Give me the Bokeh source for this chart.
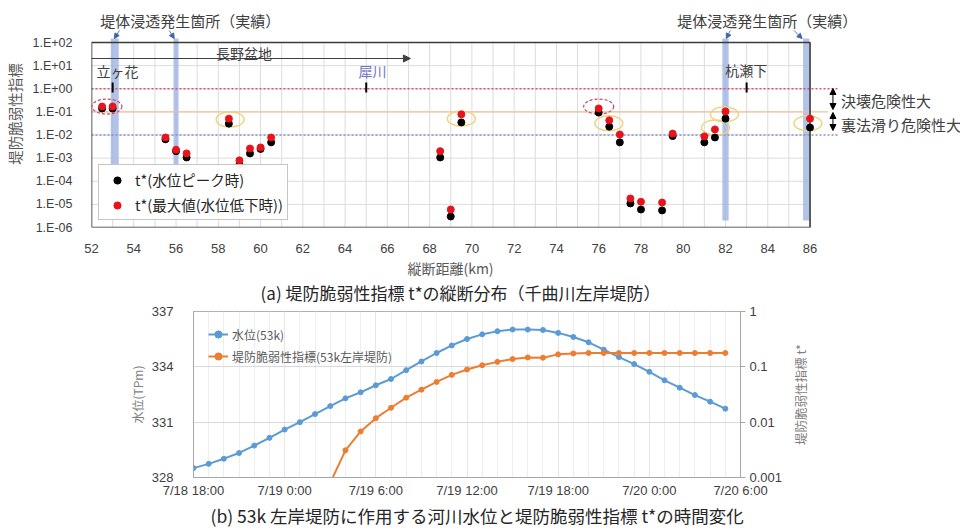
import math
from bokeh.plotting import figure
from bokeh.layouts import column, row
from bokeh.models import (Range1d, FixedTicker, CustomJSTickFormatter, Label, Arrow,
                          NormalHead, Legend, LegendItem, LogAxis, LogScale, Title)
from bokeh.core.properties import value
from bokeh.embed import file_html
from bokeh.resources import INLINE

JP = "Noto Sans CJK JP"
LAT = "Liberation Sans"
nan = float("nan")

# ---------------- (a) data ----------------
km = [52.5, 53.0, 55.5, 56.0, 56.5, 58.5, 59.0, 59.5, 60.0, 60.5, 68.5, 69.0,
      69.5, 76.0, 76.5, 77.0, 77.5, 78.0, 79.0, 79.5, 81.0, 81.5, 82.0, 86.0]
t_peak = [0.14, 0.14, 0.0065, 0.002, 0.00107, 0.031, 0.00053, 0.0016, 0.0025, 0.0048, 0.00107, 3.0e-6,
          0.035, 0.093, 0.023, 0.0048, 1.1e-5, 6.0e-6, 5.5e-6, 0.009, 0.0048, 0.0078, 0.051, 0.021]
t_max = [0.17, 0.17, 0.0078, 0.0023, 0.0016, 0.051, 0.0008, 0.0026, 0.0029, 0.0078, 0.0020, 6.0e-6,
         0.078, 0.14, 0.043, 0.0105, 1.8e-5, 1.3e-5, 1.2e-5, 0.0115, 0.0087, 0.0174, 0.105, 0.051]
x_ticks_a = [52, 54, 56, 58, 60, 62, 64, 66, 68, 70, 72, 74, 76, 78, 80, 82, 84, 86]
x_grid_a = list(range(52, 87))
y_ticks_a = [1e-6, 1e-5, 1e-4, 1e-3, 1e-2, 1e-1, 1e0, 1e1, 1e2]
thresholds = [1.0, 0.1, 0.01]
seep_km = [53.1, 56.0, 82.0, 85.82]
seep_bottom = [2.2e-4, 2.2e-4, 2.0e-6, 2.0e-6]
places = ["立ヶ花", "犀川", "杭瀬下"]
place_km = [53.0, 65.0, 83.0]
red_ring_km = [52.73, 76.0]
red_ring_t = [0.17, 0.17]
yellow_ring_km = [58.56, 69.5, 76.48, 81.53, 81.95, 85.9]
yellow_ring_t = [0.047, 0.051, 0.032, 0.021, 0.078, 0.032]

# ---------------- (b) data ----------------
hours = list(range(36))
level = [328.51, 328.74, 329.02, 329.33, 329.73, 330.15, 330.6, 331.0, 331.44, 331.87,
         332.29, 332.62, 333.0, 333.34, 333.82, 334.29, 334.75, 335.16, 335.51, 335.76,
         335.93, 336.02, 336.02, 336.0, 335.84, 335.62, 335.33, 334.93, 334.53, 334.15,
         333.73, 333.27, 332.87, 332.47, 332.11, 331.73]
tstar = [nan, nan, nan, nan, nan, nan, nan, nan, nan, 0.0008,
         0.0031, 0.0068, 0.0118, 0.0182, 0.0277, 0.0387, 0.0534, 0.0716, 0.0895, 0.107,
         0.123, 0.138, 0.148, 0.146, 0.168, 0.175, 0.178, 0.178, 0.178, 0.178,
         0.178, 0.178, 0.178, 0.178, 0.178, 0.178]
time_ticks = [0, 6, 12, 18, 24, 30, 36]
time_labels = ["7/18 18:00", "7/19 0:00", "7/19 6:00", "7/19 12:00", "7/19 18:00", "7/20 0:00", "7/20 6:00"]
level_ticks = [328, 331, 334, 337]
tstar_ticks = [0.001, 0.01, 0.1, 1]

# ---------------- layout helpers (annotation placement) ----------------
def a_km(px):
    return 52 + (px - 88) / 21.206

def a_t(py):
    return 10 ** (2 - (py - 42) / 23.125)

def bare(w, h):
    f = figure(width=w, height=h, output_backend="svg", toolbar_location=None,
               x_range=Range1d(0, w), y_range=Range1d(0, h),
               min_border_left=0, min_border_right=0, min_border_top=0, min_border_bottom=0)
    f.frame_align = False
    f.axis.visible = False
    f.grid.grid_line_color = None
    f.outline_line_color = None
    return f

# ================= panel (a) =================
H1 = 258
p1 = figure(width=960, height=H1, output_backend="svg", toolbar_location=None,
            x_range=Range1d(52, a_km(960)), y_range=Range1d(1e-6, a_t(0)),
            y_axis_type="log", min_border_left=88, min_border_right=0,
            min_border_top=0, min_border_bottom=31)
p1.frame_align = False
p1.outline_line_color = None
p1.grid.grid_line_color = None
p1.background_fill_color = "white"

xa0, xa1 = x_ticks_a[0], x_ticks_a[-1]
ya0, ya1 = y_ticks_a[0], y_ticks_a[-1]

# grid
p1.segment(x0=x_grid_a, y0=[ya0] * len(x_grid_a), x1=x_grid_a, y1=[ya1] * len(x_grid_a),
           line_color="#dcdcdc", line_width=1)
p1.segment(x0=[xa0] * len(y_ticks_a), y0=y_ticks_a, x1=[xa1] * len(y_ticks_a), y1=y_ticks_a,
           line_color="#dcdcdc", line_width=1)

# seepage bands
band_w = [0.38, 0.24, 0.30, 0.30]
band_top = a_t(38)
p1.quad(left=[k - w / 2 for k, w in zip(seep_km, band_w)],
        right=[k + w / 2 for k, w in zip(seep_km, band_w)],
        bottom=seep_bottom, top=[band_top] * len(seep_km),
        fill_color="#9db4e0", fill_alpha=0.8, line_color=None)

# threshold lines
th_end = [a_km(837), a_km(827), a_km(837)]
th_col = ["#d9556a", "#f3bf9c", "#8a8fc8"]
th_dash = ["2 2", "solid", "2 2"]
for t, e, c, d in zip(thresholds, th_end, th_col, th_dash):
    p1.segment(x0=[xa0], y0=[t], x1=[e], y1=[t], line_color=c, line_width=1.3, line_dash=d)

# box
p1.line(x=[xa0, xa1, xa1, xa0, xa0], y=[ya0, ya0, ya1, ya1, ya0], line_color="#3a3a3a", line_width=1.6)

# place ticks
p1.segment(x0=place_km, y0=[a_t(82)] * 3, x1=place_km, y1=[a_t(92)] * 3,
           line_color="black", line_width=2)

# rings
p1.ellipse(x=red_ring_km, y=red_ring_t, width=30, height=15, width_units="screen",
           height_units="screen", fill_color=None, line_color="#d0455a", line_width=1.2,
           line_dash="3 2")
p1.ellipse(x=yellow_ring_km, y=yellow_ring_t, width=28, height=15, width_units="screen",
           height_units="screen", fill_color=None, line_color="#f0d27a", line_width=1.4)

# points
r_blk = p1.scatter(km, t_peak, size=7, fill_color="black", line_color="black")
r_red = p1.scatter(km, t_max, size=7, fill_color="#e8141b", line_color="#e8141b")

# axes
p1.xaxis.ticker = FixedTicker(ticks=x_ticks_a)
p1.yaxis.ticker = FixedTicker(ticks=y_ticks_a)
p1.yaxis.bounds = (ya0, ya1)
p1.yaxis.formatter = CustomJSTickFormatter(code="""
const e = Math.round(Math.log10(tick));
const a = Math.abs(e);
return "1.E" + (e < 0 ? "-" : "+") + (a < 10 ? "0" : "") + a;
""")
for ax in (p1.xaxis[0], p1.yaxis[0]):
    ax.axis_line_color = None
    ax.major_tick_line_color = None
    ax.minor_tick_line_color = None
    ax.major_label_text_font = LAT
    ax.major_label_text_color = "#404040"
    ax.axis_label_text_font = JP
    ax.axis_label_text_font_style = "normal"
    ax.axis_label_text_color = "#595959"
p1.xaxis.major_tick_out = 0
p1.xaxis.minor_tick_out = 0
p1.xaxis.major_label_text_font_size = "13px"
p1.yaxis.major_label_text_font_size = "12.5px"
p1.xaxis.major_label_standoff = 16
p1.yaxis.major_label_standoff = 13
p1.yaxis.axis_label = "堤防脆弱性指標"
p1.yaxis.axis_label_text_font_size = "14.5px"
p1.yaxis.axis_label_standoff = 5

leg1 = Legend(items=[LegendItem(label="t*(水位ピーク時)", renderers=[r_blk]),
                     LegendItem(label="t*(最大値(水位低下時))", renderers=[r_red])],
              location="bottom_left", margin=7, padding=4, spacing=4,
              label_height=18, glyph_height=18, glyph_width=28, label_standoff=4,
              label_text_font=JP, label_text_font_size="14.5px", label_text_color="#262626",
              border_line_color="#8c8c8c", border_line_width=1, background_fill_color="white")
p1.add_layout(leg1)

# annotations (a)
def lab(p, x, y, text, size, color="#404040", align="left", font=JP):
    p.add_layout(Label(x=x, y=y, text=text, text_font=font, text_font_size=size,
                       text_color=color, text_align=align, text_baseline="middle"))

lab(p1, a_km(187), a_t(20), "堤体浸透発生箇所（実績）", "15px", align="center")
lab(p1, a_km(766), a_t(20), "堤体浸透発生箇所（実績）", "15px", align="center")
lab(p1, a_km(241), a_t(52), "長野盆地", "14px", align="center")
lab(p1, a_km(93), a_t(70), places[0], "14px")
lab(p1, a_km(370), a_t(70), places[1], "14px", color="#7474c4", align="center")
lab(p1, a_km(745), a_t(69), places[2], "14px", align="center")
lab(p1, a_km(840), a_t(100), "決壊危険性大", "15px")
lab(p1, a_km(840), a_t(124), "裏法滑り危険性大", "15px")

p1.add_layout(Arrow(x_start=a_km(86), y_start=a_t(58), x_end=a_km(408), y_end=a_t(58),
                    line_color="#404040", line_width=1.2,
                    end=NormalHead(size=7, fill_color="#404040", line_color="#404040")))
for ys, ye in ((88, 109), (112, 130)):
    p1.add_layout(Arrow(x_start=a_km(832), y_start=a_t(ys), x_end=a_km(832), y_end=a_t(ye),
                        line_color="black", line_width=1,
                        start=NormalHead(size=6, fill_color="black", line_color="black"),
                        end=NormalHead(size=6, fill_color="black", line_color="black")))
for xs, xe in ((116, 111), (166, 171), (729, 725), (793, 801)):
    p1.add_layout(Arrow(x_start=a_km(xs), y_start=a_t(30), x_end=a_km(xe), y_end=a_t(38),
                        line_color="#5a78b8", line_width=1,
                        end=NormalHead(size=5, fill_color="#3f64b0", line_color="#3f64b0")))

# ---- strip under panel (a): axis title and caption
H_CAP = 305 - H1
cap = bare(960, H_CAP)
cap.text(x=[450], y=[H_CAP - (267 - H1)], text=["縦断距離(km)"], text_font=value(JP),
         text_font_size=value("14px"), text_color="#595959", text_align="center", text_baseline="middle")
cap.text(x=[462], y=[H_CAP - (292 - H1)], text=["(a)  堤防脆弱性指標 t*の縦断分布（千曲川左岸堤防）"],
         text_font=value(JP), text_font_size=value("17px"), text_color="#262626",
         text_align="center", text_baseline="middle")

# ================= panel (b) =================
W2, H2 = 790, 227
p2 = figure(width=W2, height=H2, output_backend="svg", toolbar_location=None,
            x_range=Range1d(0, 36), y_range=Range1d(level_ticks[0], level_ticks[-1]),
            min_border_left=193, min_border_right=W2 - 740, min_border_top=6, min_border_bottom=55)
p2.frame_align = False
p2.extra_y_ranges = {"t": Range1d(tstar_ticks[0], tstar_ticks[-1])}
p2.extra_y_scales = {"t": LogScale()}
p2.outline_line_color = "#b0b0b0"

xax2 = p2.xaxis[0]
yax2 = p2.yaxis[0]
xax2.ticker = FixedTicker(ticks=time_ticks, minor_ticks=hours + [36])
xax2.major_label_overrides = {k: v for k, v in zip(time_ticks, time_labels)}
yax2.ticker = FixedTicker(ticks=level_ticks)
p2.xgrid.grid_line_color = "#e6e6e6"
p2.xgrid.minor_grid_line_color = "#eeeeee"
p2.ygrid.grid_line_color = "#d9d9d9"

l1 = p2.line(hours, level, line_color="#5b9bd5", line_width=2)
s1 = p2.scatter(hours, level, size=5, fill_color="#5b9bd5", line_color="#5b9bd5")
l2 = p2.line(hours, tstar, line_color="#ed7d31", line_width=2, y_range_name="t")
s2 = p2.scatter(hours, tstar, size=5, fill_color="#ed7d31", line_color="#ed7d31", y_range_name="t")

rax = LogAxis(y_range_name="t", ticker=FixedTicker(ticks=tstar_ticks),
              formatter=CustomJSTickFormatter(code="return tick.toString();"))
p2.add_layout(rax, "right")

for ax in (xax2, yax2, rax):
    ax.major_label_text_font = LAT
    ax.major_label_text_font_size = "13px"
    ax.major_label_text_color = "#404040"
    ax.minor_tick_line_color = None
    ax.axis_label_text_font = JP
    ax.axis_label_text_font_style = "normal"
    ax.axis_label_text_color = "#7f7f7f"
    ax.axis_label_text_font_size = "12px"
    ax.axis_line_color = "#a6a6a6"
xax2.major_tick_line_color = None
xax2.major_tick_out = 0
xax2.minor_tick_out = 0
yax2.major_tick_line_color = None
xax2.major_label_standoff = 5
yax2.major_label_standoff = 14
yax2.axis_label = "水位(TPm)"
yax2.axis_label_standoff = 3
rax.major_tick_line_color = "#a6a6a6"
rax.major_tick_out = 5
rax.major_tick_in = 0
rax.major_label_standoff = 4

p2.add_layout(Title(text="(b) 53k 左岸堤防に作用する河川水位と堤防脆弱性指標 t*の時間変化", align="left", offset=17,
                    text_font=JP, text_font_size="17.5px", text_font_style="normal",
                    text_color="#262626", standoff=0), "below")

leg2 = Legend(items=[LegendItem(label="水位(53k)", renderers=[l1, s1]),
                     LegendItem(label="堤防脆弱性指標(53k左岸堤防)", renderers=[l2, s2])],
              location=(15, 112), margin=0, padding=4, spacing=4,
              label_height=18, glyph_height=18, glyph_width=20, label_standoff=4,
              label_text_font=JP, label_text_font_size="12px", label_text_color="#595959",
              border_line_color=None, background_fill_alpha=0)
p2.add_layout(leg2)

# ---- strip right of panel (b): right-axis title, reading bottom to top
W3 = 960 - W2
side = bare(W3, H2)
side.text(x=[800 - W2], y=[H2 - (394 - 305)], text=["堤防脆弱性指標 t*"], angle=math.pi / 2,
          text_font=value(JP), text_font_size=value("12.5px"), text_color="#7f7f7f",
          text_align="center", text_baseline="middle")

layout = column(p1, cap, row(p2, side, spacing=0), spacing=0)
open("out.html", "w").write(file_html(layout, INLINE))
